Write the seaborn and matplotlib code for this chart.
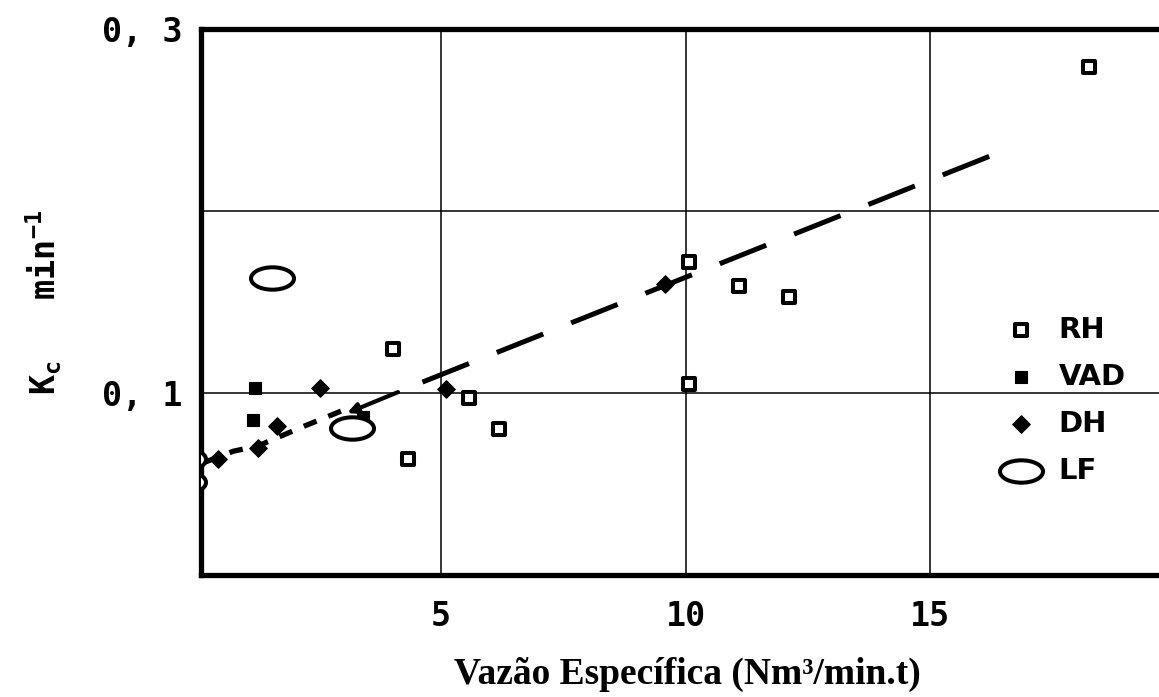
import numpy as np
import matplotlib
matplotlib.use("Agg")
import matplotlib.pyplot as plt
from matplotlib.path import Path
from matplotlib.transforms import Affine2D
import seaborn as sns

# Rate constant Kc (min^-1) against specific gas flow (Nm3/min.t)
rh_x = [4.02, 4.33, 5.57, 6.19, 10.07, 10.07, 11.09, 12.12, 18.25]
rh_y = [0.124, 0.064, 0.097, 0.080, 0.172, 0.105, 0.159, 0.153, 0.279]

vad_x = [1.16, 1.20, 3.40]
vad_y = [0.085, 0.103, 0.087]

dh_x = [0.44, 1.26, 1.65, 2.53, 5.10, 9.58]
dh_y = [0.064, 0.070, 0.082, 0.103, 0.102, 0.160]

lf_x = [-0.26, -0.26, 1.54, 3.18]
lf_y = [0.064, 0.051, 0.163, 0.081]

# trend curves: short-dash low-flow branch and long-dash linear branch
low_fit_x = [0.17, 0.75, 1.26, 2.22, 3.04]
low_fit_y = [0.062, 0.068, 0.071, 0.082, 0.091]
high_fit_x = [4.62, 16.64]
high_fit_y = [0.106, 0.2346]

x_ticks = [5, 10, 15]
x_tick_labels = ["5", "10", "15"]
y_ticks = [0.1, 0.2, 0.3]
y_tick_labels = ["0, 1", "", "0, 3"]

sns.set_style("white")
plt.rcParams["font.family"] = ["DejaVu Sans Mono", "DejaVu Sans"]
plt.rcParams["mathtext.fontset"] = "custom"
plt.rcParams["mathtext.rm"] = "DejaVu Sans Mono:bold"
plt.rcParams["mathtext.it"] = "DejaVu Sans Mono:bold"
plt.rcParams["mathtext.bf"] = "DejaVu Sans Mono:bold"
for key in ["text.color", "axes.labelcolor", "xtick.color", "ytick.color"]:
    plt.rcParams[key] = "black"

fig = plt.figure(figsize=(11.59, 6.97), dpi=100)
ax = fig.add_axes([0.1734, 0.175, 0.840, 0.7834])

ax.set_xlim(0.09, 20)
ax.set_ylim(0.0, 0.3)

# grid
ax.set_axisbelow(True)
ax.grid(True, color="black", linewidth=1.1)

# trend lines
sns.lineplot(x=low_fit_x, y=low_fit_y, ax=ax, color="black", linewidth=3.8,
             linestyle=(0, (2.6, 2.4)), zorder=2)
sns.lineplot(x=high_fit_x, y=high_fit_y, ax=ax, color="black", linewidth=3.6,
             linestyle=(0, (10.0, 6.0)), zorder=2)
ax.annotate("", xy=(3.08, 0.089), xytext=(4.12, 0.1005),
            arrowprops=dict(arrowstyle="-|>", color="black", lw=3.0,
                            mutation_scale=15, shrinkA=0, shrinkB=0), zorder=2)

# markers
ellipse = Path.unit_circle().transformed(Affine2D().scale(1.0, 0.52))

sns.scatterplot(x=rh_x, y=rh_y, ax=ax, marker="s", s=85, color="white",
                edgecolor="black", linewidth=2.9, label="RH", zorder=4)
sns.scatterplot(x=vad_x, y=vad_y, ax=ax, marker="s", s=85, color="black",
                edgecolor="black", linewidth=0.8, label="VAD", zorder=4)
sns.scatterplot(x=dh_x, y=dh_y, ax=ax, marker="D", s=80, color="black",
                edgecolor="black", linewidth=0.8, label="DH", zorder=4)
sns.scatterplot(x=lf_x, y=lf_y, ax=ax, marker=ellipse, s=960, color="white",
                edgecolor="black", linewidth=2.9, label="LF", zorder=5)

# axes frame
for side in ["left", "bottom", "top"]:
    ax.spines[side].set_linewidth(3.8)
    ax.spines[side].set_color("black")
ax.spines["right"].set_visible(False)

ax.set_xticks(x_ticks, labels=x_tick_labels)
ax.set_yticks(y_ticks, labels=y_tick_labels)
ax.tick_params(axis="both", length=0, labelsize=24)
ax.tick_params(axis="x", pad=18)
ax.tick_params(axis="y", pad=13)
for lab in ax.get_xticklabels() + ax.get_yticklabels():
    lab.set_fontweight("bold")

ax.set_ylabel(r"$\mathrm{K_c}$   $\mathrm{min^{-1}}$", fontsize=24, labelpad=28)
ax.set_xlabel("Vazão Específica (Nm³/min.t)", family="Liberation Serif",
              fontweight="bold", fontsize=27, labelpad=17)

ax.legend(loc="center left", bbox_to_anchor=(0.843, 0.426),
          bbox_transform=fig.transFigure, frameon=False, borderpad=0,
          handlelength=2.0, handletextpad=0.3, labelspacing=0.65,
          scatterpoints=1,
          prop={"family": "DejaVu Sans", "weight": "bold", "size": 21})

fig.savefig("out.png", dpi=100)
